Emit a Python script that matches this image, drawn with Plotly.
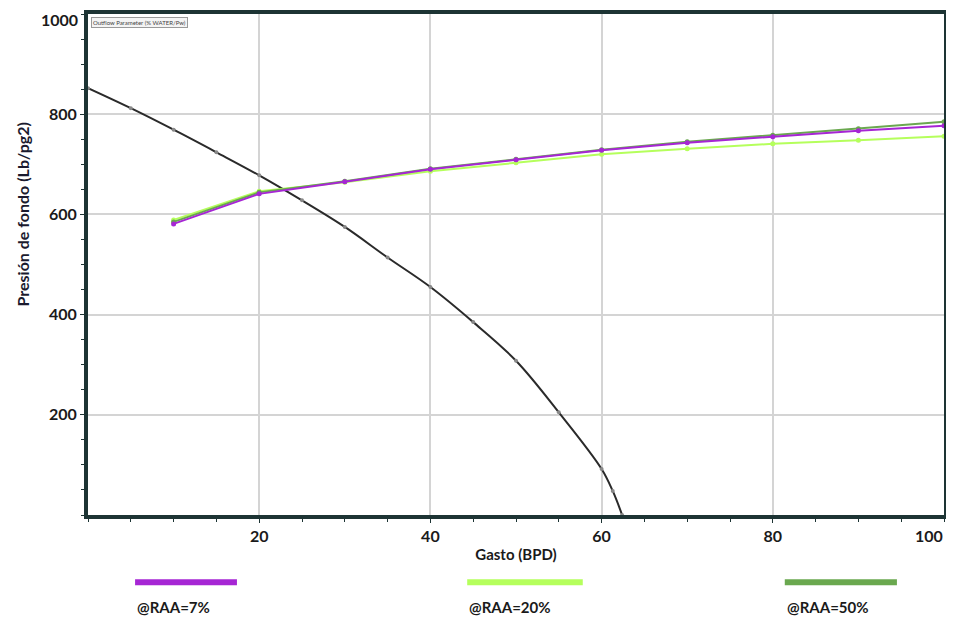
import plotly.graph_objects as go

# Inflow (IPR) curve
ipr_x = [0, 5, 10, 15, 20, 25, 30, 35, 40, 45, 50, 55, 60, 61.3, 62.4]
ipr_y = [852, 812, 769, 724, 678, 628, 575, 514, 455, 385, 308, 205, 92, 48, 0]

# Outflow curves
q = [10, 20, 30, 40, 50, 60, 70, 80, 90, 100]
raa7 = [581, 641, 665, 690, 709, 728, 743, 755, 767, 777]
raa20 = [589, 646, 664, 686, 703, 720, 731, 741, 748, 756]
raa50 = [585, 644, 666, 691, 710, 729, 745, 758, 771, 785]

series = [("@RAA=7%", raa7, "#a626d4"), ("@RAA=20%", raa20, "#b5ff5c"), ("@RAA=50%", raa50, "#6aa84f")]

x_ticks = [20, 40, 60, 80, 100]
y_ticks = [200, 400, 600, 800, 1000]

fig = go.Figure()
fig.add_trace(go.Scatter(x=ipr_x, y=ipr_y, mode="lines+markers", line=dict(color="#2a2a2a", width=2, shape="spline"),
                         marker=dict(size=4, color="#888888"), showlegend=False))
for name, ys, col in [series[1], series[2], series[0]]:
    fig.add_trace(go.Scatter(x=q, y=ys, mode="lines+markers", name=name,
                             line=dict(color=col, width=2), marker=dict(size=5, color=col), showlegend=False))

font = "Lato, 'Open Sans', sans-serif"
# the page body adds an 8px offset, so the figure is sized to fit the 954x624 window without scrollbars
fig.update_layout(
    width=938, height=608, margin=dict(l=80, r=2, t=6, b=101),
    paper_bgcolor="white", plot_bgcolor="white",
    font=dict(family=font, color="#1a1a1a"),
    xaxis=dict(range=[0, 100], tickvals=x_ticks[:-1], showgrid=True, gridcolor="#d4d4d4", gridwidth=1.5,
               showline=True, linecolor="#1d3434", linewidth=4, mirror=True, zeroline=False, automargin=False,
               ticks="outside", ticklen=4, tickcolor="#1d3434", ticklabeloverflow="allow",
               minor=dict(dtick=5, ticks="outside", ticklen=3, tickcolor="#1d3434", showgrid=False),
               tickfont=dict(size=16, family=font, weight="bold"),
               title=dict(text="<b>Gasto (BPD)</b>", font=dict(size=15, family=font), standoff=6)),
    yaxis=dict(range=[0, 1000], tickvals=y_ticks[:-1], showgrid=True, gridcolor="#d4d4d4", gridwidth=1.5,
               showline=True, linecolor="#1d3434", linewidth=4, mirror=True, zeroline=False, automargin=False,
               ticks="outside", ticklen=4, tickcolor="#1d3434", ticklabeloverflow="allow",
               minor=dict(dtick=50, ticks="outside", ticklen=3, tickcolor="#1d3434", showgrid=False),
               tickfont=dict(size=16, family=font, weight="bold")),
)

# end tick labels, kept inside the page
fig.add_annotation(text="<b>%d</b>" % x_ticks[-1], x=x_ticks[-1], xref="x", yref="paper", y=0, yshift=-9,
                   xanchor="right", yanchor="top", showarrow=False, xshift=1,
                   font=dict(size=16, family=font, color="#1a1a1a"))
fig.add_annotation(text="<b>%d</b>" % y_ticks[-1], x=0, xref="paper", y=y_ticks[-1], yref="y", yshift=-5,
                   xanchor="right", yanchor="middle", showarrow=False, xshift=-8,
                   font=dict(size=16, family=font, color="#1a1a1a"))

# y-axis title
fig.add_annotation(text="<b>Presión de fondo (Lb/pg2)</b>", xref="paper", yref="paper", x=-0.077, y=0.6,
                   xanchor="center", yanchor="middle",
                   textangle=-90, showarrow=False, font=dict(size=16, family=font, color="#1a1a2e"))

# small parameter box at top-left
fig.add_annotation(text="Outflow Parameter (% WATER/Pw)", xref="paper", yref="paper", x=0.003, y=0.994,
                   xanchor="left", yanchor="top", showarrow=False, font=dict(size=6, color="#444444"),
                   bordercolor="#999999", borderwidth=1, bgcolor="#f4f4f4", borderpad=1)

# bottom legend: line sample above label
legend_pos = [(0.055, 0.174), (0.443, 0.578), (0.814, 0.945)]
for (name, ys, col), (x0, x1) in zip(series, legend_pos):
    fig.add_shape(type="line", xref="paper", yref="paper", x0=x0, x1=x1, y0=-0.134, y1=-0.134,
                  line=dict(color=col, width=6))
    fig.add_annotation(text="<b>" + name + "</b>", xref="paper", yref="paper", x=x0, y=-0.184,
                       xanchor="left", yanchor="middle", showarrow=False,
                       font=dict(size=15, family=font, color="#1a1a1a"))

fig.write_html("out.html")
